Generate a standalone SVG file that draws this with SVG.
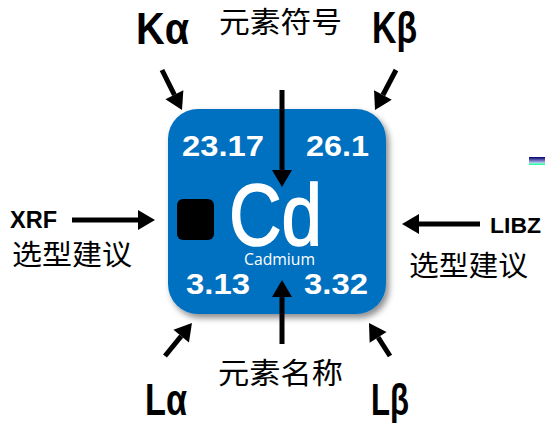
<svg xmlns="http://www.w3.org/2000/svg" width="545" height="423" viewBox="0 0 545 423">
<style>
.lbl{font-family:"Liberation Sans",Arial,sans-serif;font-weight:bold;fill:#000}
.cjk{font-family:"Noto Sans CJK SC","Noto Sans CJK JP",sans-serif;fill:#000}
.num{font-family:"Liberation Sans",Arial,sans-serif;font-weight:bold;fill:#fff;font-size:29.5px}
.arr{stroke:#000;stroke-width:5;fill:none;marker-end:url(#ah)}
</style>
<defs>
<marker id="ah" markerUnits="userSpaceOnUse" markerWidth="17" markerHeight="20" refX="0" refY="10" orient="auto" overflow="visible">
<path d="M0,0 L17,10 L0,20 z" fill="#000"/>
</marker>
<filter id="sh" x="-10%" y="-10%" width="130%" height="130%">
<feDropShadow dx="3" dy="4" stdDeviation="3" flood-color="#000" flood-opacity="0.45"/>
</filter>
<linearGradient id="gb" x1="0" y1="0" x2="0" y2="1">
<stop offset="0" stop-color="#000070"/>
<stop offset="0.5" stop-color="#8080c8"/>
<stop offset="0.8" stop-color="#c8e4f4"/>
<stop offset="0.82" stop-color="#40ffb0"/>
<stop offset="1" stop-color="#20ff9c"/>
</linearGradient>
</defs>
<rect x="529" y="157" width="16" height="8" fill="url(#gb)"/>
<g id="element">
<rect x="168" y="109" width="218" height="205" rx="30" fill="#0070c0" filter="url(#sh)"/>
<rect x="177" y="199" width="37" height="41" rx="6" fill="#000"/>
<text class="num" x="182" y="156" textLength="82" lengthAdjust="spacingAndGlyphs">23.17</text>
<text class="num" x="306" y="156" textLength="63" lengthAdjust="spacingAndGlyphs">26.1</text>
<text class="num" x="186" y="294" textLength="64" lengthAdjust="spacingAndGlyphs">3.13</text>
<text class="num" x="304" y="294" textLength="64" lengthAdjust="spacingAndGlyphs">3.32</text>
<text x="229" y="245" font-family="'Liberation Sans',Arial,sans-serif" font-size="88" fill="#fff" stroke="#fff" stroke-width="1.6" textLength="93" lengthAdjust="spacingAndGlyphs">Cd</text>
<text x="244" y="265" font-family="'Open Sans',sans-serif" font-size="16" fill="#fff" textLength="71" lengthAdjust="spacingAndGlyphs">Cadmium</text>
</g>
<g id="labels">
<text id="ka" class="lbl" x="136" y="44" font-size="44" textLength="53" lengthAdjust="spacingAndGlyphs">Kα</text>
<text id="kb" class="lbl" x="372" y="43" font-size="44" textLength="45" lengthAdjust="spacingAndGlyphs">Kβ</text>
<text id="la" class="lbl" x="145" y="415" font-size="44" textLength="42" lengthAdjust="spacingAndGlyphs">Lα</text>
<text id="lb" class="lbl" x="371" y="415" font-size="44" textLength="38" lengthAdjust="spacingAndGlyphs">Lβ</text>
<text id="xrf" class="lbl" x="10" y="228" font-size="24" textLength="47" lengthAdjust="spacingAndGlyphs">XRF</text>
<text id="libz" class="lbl" x="490" y="233" font-size="22" textLength="51" lengthAdjust="spacingAndGlyphs">LIBZ</text>
<text id="symbol" class="cjk" x="219" y="33" font-size="29" textLength="123" lengthAdjust="spacingAndGlyphs">元素符号</text>
<text id="name" class="cjk" x="218" y="384" font-size="29" textLength="125" lengthAdjust="spacingAndGlyphs">元素名称</text>
<text id="xrfsel" class="cjk" x="12" y="265" font-size="28" textLength="120" lengthAdjust="spacingAndGlyphs">选型建议</text>
<text id="libzsel" class="cjk" x="409" y="276" font-size="28" textLength="119" lengthAdjust="spacingAndGlyphs">选型建议</text>
</g>
<g id="connectors">
<line class="arr" x1="282" y1="90" x2="282" y2="170"/>
<line class="arr" x1="282" y1="344" x2="282" y2="297"/>
<line class="arr" x1="162" y1="70" x2="174.4" y2="94.8"/>
<line class="arr" x1="396" y1="70" x2="382.9" y2="95"/>
<line class="arr" x1="165" y1="356" x2="181.2" y2="336.2"/>
<line class="arr" x1="390" y1="356" x2="378.1" y2="337.3"/>
<line class="arr" x1="72" y1="220" x2="138" y2="220"/>
<line class="arr" x1="480" y1="224" x2="419" y2="224"/>
</g>
</svg>
